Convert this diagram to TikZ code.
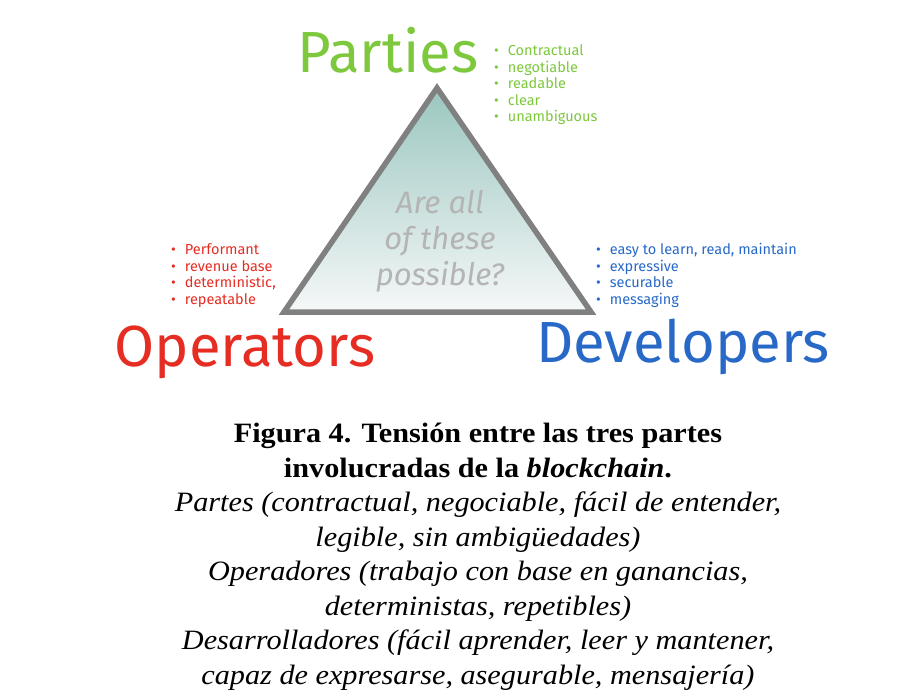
\documentclass[tikz,border=0pt]{standalone}
\usepackage{fontspec}
\usepackage{xcolor}
\setmainfont{Liberation Serif}[FakeStretch=1.08]
\newfontfamily\handfont{Fira Sans}
\usetikzlibrary{positioning,calc}

\definecolor{partiesgreen}{RGB}{125,200,60}
\definecolor{operred}{RGB}{230,45,35}
\definecolor{devblue}{RGB}{40,105,200}
\definecolor{trigray}{RGB}{128,128,128}
\definecolor{tritop}{RGB}{155,198,192}
\definecolor{tribottom}{RGB}{245,248,248}
\definecolor{qgray}{RGB}{180,180,180}

\newcommand{\bulletlist}[1]{\begin{tabular}{@{}l@{\hspace{9pt}}l@{}}#1\end{tabular}}

\begin{document}
\begin{tikzpicture}[
    x=1pt, y=-1pt,
    title/.style={font=\handfont\fontsize{58}{60}\selectfont, inner sep=0pt},
    items/.style={font=\handfont\fontsize{14.5}{16.5}\selectfont, inner sep=0pt, anchor=north west, align=left},
    question/.style={font=\handfont\itshape\fontsize{31}{36}\selectfont, text=qgray, align=center},
    caption/.style={font=\fontsize{28}{34.5}\selectfont, align=center, inner sep=0pt}
]
    \useasboundingbox (0,0) rectangle (916,694);

    % triangle
    \coordinate (apex) at (437,88);
    \coordinate (lft) at (284,312);
    \coordinate (rgt) at (591,312);
    \shade [top color=tritop, bottom color=tribottom] (apex) -- (lft) -- (rgt) -- cycle;
    \draw [trigray, line width=5.5pt, line join=miter] (apex) -- (lft) -- (rgt) -- cycle;
    \node [question] (q) at (440,241) {Are all\\of these\\possible?};

    % the three parties
    \node [title, text=partiesgreen] (parties) at (388,50) {Parties};
    \node [title, text=operred] (operators) at (245,352) {Operators};
    \node [title, text=devblue] (developers) at (683,347) {Developers};

    \node [items, text=partiesgreen] (plist) at (494,44) {\bulletlist{%
        \textbullet & Contractual\\
        \textbullet & negotiable\\
        \textbullet & readable\\
        \textbullet & clear\\
        \textbullet & unambiguous}};
    \node [items, text=operred] (olist) at (171,243) {\bulletlist{%
        \textbullet & Performant\\
        \textbullet & revenue base\\
        \textbullet & deterministic,\\
        \textbullet & repeatable}};
    \node [items, text=devblue] (dlist) at (596,243) {\bulletlist{%
        \textbullet & easy to learn, read, maintain\\
        \textbullet & expressive\\
        \textbullet & securable\\
        \textbullet & messaging}};

    % caption
    \node [caption, anchor=north] (cap) at (478,423) {%
        \textbf{Figura 4. Tensión entre las tres partes}\\
        \textbf{involucradas de la \textit{blockchain}.}\\
        \textit{Partes (contractual, negociable, fácil de entender,}\\
        \textit{legible, sin ambigüedades)}\\
        \textit{Operadores (trabajo con base en ganancias,}\\
        \textit{deterministas, repetibles)}\\
        \textit{Desarrolladores (fácil aprender, leer y mantener,}\\
        \textit{capaz de expresarse, asegurable, mensajería)}};
\end{tikzpicture}
\end{document}
